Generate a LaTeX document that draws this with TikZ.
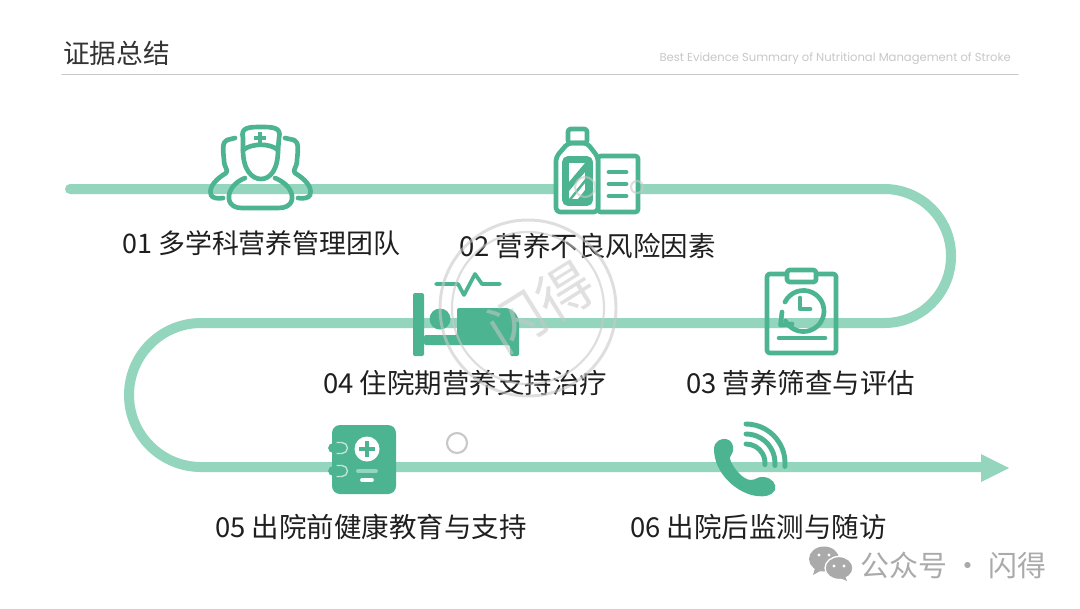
\documentclass[tikz,border=0pt]{standalone}
\usepackage{fontspec}
\setmainfont{Noto Sans CJK SC}
\newfontfamily\latinfont{Poppins}
\newcommand{\px}[1]{\fontsize{#1}{#1}\selectfont}
\begin{document}
\begin{tikzpicture}[x=0.75pt,y=-0.75pt,line join=round,line cap=round]
\definecolor{ligne}{RGB}{148,213,190}
\definecolor{vert}{RGB}{77,180,146}
\definecolor{gris}{RGB}{200,200,200}
\tikzset{
  steplabel/.style={anchor=west,inner sep=0pt,text=black!88,font=\px{20.6}},
  icon/.style={draw=vert,line width=3.5pt},
  thinicon/.style={draw=vert,line width=2.8pt},
  stamp/.style={draw=gris,line width=1.6pt,opacity=0.6}
}
\useasboundingbox (0,0) rectangle (1080,608);
\fill[white] (0,0) rectangle (1080,608);
\node[anchor=west,inner sep=0pt,text=black!80,font=\px{20}] (title) at (63,53) {证据总结};
\node[anchor=east,inner sep=0pt,text=gris,font=\px{8.68}\latinfont\mdseries] (subtitle) at (1011,59) {Best Evidence Summary of Nutritional Management of Stroke};
\draw[gris,line width=0.8pt] (62,74.5) -- (1018,74.5);
\draw[ligne,line width=7.5pt,line cap=round] (70,189) [rounded corners=50pt] -- (951,189) -- (951,323) [rounded corners=54pt] -- (129,323) -- (129,467) [sharp corners] -- (985,467);
\fill[ligne] (981,454) -- (1009,468) -- (981,482) -- cycle;
% nurse
\draw[icon] (243,138) .. controls (240,127) and (250,127) .. (261,127) .. controls (272,127) and (282,127) .. (279,138) -- (278,150) .. controls (278,170) and (270,179) .. (261,179) .. controls (252,179) and (243,170) .. (243,150) -- cycle;
\draw[icon] (243,150) .. controls (252,143) and (270,143) .. (278,150);
\draw[vert,line width=2.8pt,line cap=butt] (260,132) -- (260,144) (254,138) -- (266,138);
\draw[icon] (245,178) .. controls (235,182) and (228,190) .. (229,199) .. controls (230,206) and (236,208) .. (242,208) -- (278,208) .. controls (285,208) and (291,206) .. (292,199) .. controls (293,190) and (285,182) .. (275,178);
\draw[icon] (235,138) -- (227,140) .. controls (222,142) and (223,150) .. (224,160) .. controls (224,168) and (229,170) .. (226,173) .. controls (218,178) and (208,186) .. (211,195) .. controls (212,198) and (218,199) .. (223,198);
\draw[icon] (285,138) -- (294,140) .. controls (299,142) and (298,150) .. (297,160) .. controls (297,168) and (292,170) .. (295,173) .. controls (303,178) and (313,186) .. (310,195) .. controls (309,198) and (303,199) .. (298,198);
% bottle
\draw[icon,fill=white,rounded corners=2pt] (598,156) -- (638,156) -- (638,212) -- (598,212) -- cycle;
\draw[icon,fill=white,rounded corners=3pt] (568,143) -- (556,157) -- (556,212) -- (598,212) -- (598,157) -- (587,143) -- cycle;
\draw[icon,rounded corners=2pt] (568,129) rectangle (587,143);
\draw[thinicon,fill=vert,rounded corners=3pt] (564,158) rectangle (591,204);
\fill[white] (569,163) rectangle (585,199);
\fill[vert] (569,182) -- (585,163) -- (585,172) -- (569,191) -- cycle;
\fill[vert] (569,199) -- (585,179) -- (585,199) -- (578,199) -- (585,190) -- (585,183) -- (572,199) -- cycle;
\foreach \y in {172,184,196} {
  \draw[vert,line width=3.6pt] (609,\y) -- (626,\y);
}
% bed
\fill[vert,rounded corners=1.5pt] (413,293) rectangle (424,356);
\fill[vert] (440,319) circle (10.5);
\fill[vert,rounded corners=1.5pt] (424,335) -- (457,335) -- (457,308) -- (503,308) .. controls (513,308) and (519,316) .. (519,325) -- (519,356) -- (510,356) -- (510,345) -- (424,345) -- cycle;
\draw[thinicon] (436,284) -- (458,284) -- (464,295) -- (475,274) -- (482,284) -- (500,284);
% clipboard
\draw[icon,rounded corners=2pt] (767,274) rectangle (836,353);
\draw[icon,fill=white,rounded corners=2pt] (787,270) rectangle (816,282);
\draw[icon] (785,302) arc[start angle=154,end angle=-151,radius=15.4pt];
\draw[icon] (800,298) -- (800,309) -- (810,309);
\draw[icon] (782,312) -- (780.5,325) -- (792,324);
\draw[icon] (779,338) -- (825,338);
% document
\fill[vert,rounded corners=6pt] (332,425) rectangle (396,494);
\foreach \y in {448,471} {
  \fill[vert,rounded corners=4pt] (328,\y-5) rectangle (346,\y+5);
  \draw[white!65!vert,line width=1pt] (337,\y-5.5) -- (342,\y-5.5) arc[start angle=90,end angle=-90,radius=4.1pt] -- (337,\y+5.5);
}
\fill[white] (367,449) circle (12.5);
\draw[vert,line width=3.2pt,line cap=butt] (367,441) -- (367,457) (359,449) -- (375,449);
\draw[ligne,line width=2.8pt] (358,471) -- (376,471);
\draw[white,line width=2.8pt] (362,480) -- (372,480);
% phone
\fill[vert] (714,449) .. controls (714,441) and (722,438) .. (726,439) .. controls (732,440) and (734,446) .. (733,451) .. controls (732,455) and (729,457) .. (730,459) .. controls (733,468) and (743,480) .. (751,480) .. controls (756,480) and (758,476) .. (764,477) .. controls (772,478) and (777,484) .. (775,490) .. controls (772,496) and (764,497) .. (757,496) .. controls (738,494) and (714,474) .. (714,449) -- cycle;
\foreach \r in {19,29,39} {
  \draw[vert,line width=3.7pt] (746,463-\r) arc[start angle=90,end angle=-5,radius=0.75*\r pt];
}
% labels
\node[steplabel,font=\px{20.2}] (teamlabel) at (122,243) {01 多学科营养管理团队};
\node[steplabel] (risklabel) at (459,246) {02 营养不良风险因素};
\node[steplabel] (screenlabel) at (686,383) {03 营养筛查与评估};
\node[steplabel] (staylabel) at (323,383) {04 住院期营养支持治疗};
\node[steplabel] (educlabel) at (215,527) {05 出院前健康教育与支持};
\node[steplabel] (followlabel) at (630,527) {06 出院后监测与随访};
% stamp
\draw[stamp,line width=2.2pt] (528,308) circle (88);
\draw[stamp] (528,308) circle (76);
\draw[stamp] (585,187) circle (10);
\draw[stamp] (637,187) circle (6);
\draw[gris,line width=1.6pt] (457,443) circle (10);
\node[rotate=32,text=gris,opacity=0.55,inner sep=0pt,font=\px{42}] (stampname) at (541,307) {闪得};
% wechat
\fill[gris!85!black] (824,559) ellipse (15 and 12.5);
\fill[gris!85!black] (815,568) -- (813,575) -- (822,570) -- cycle;
\draw[white,line width=1pt,fill=gris!85!black] (839,568) ellipse (14 and 11.5);
\fill[gris!85!black] (845,576) -- (847,581) -- (840,578) -- cycle;
\foreach \x/\y in {819/555,829/555,834/566,844/566} {
  \fill[white] (\x,\y) circle (1.7);
}
\node[anchor=west,inner sep=0pt,text=gris!85!black,font=\px{21.7}] (wechatname) at (860,565) {公众号 · 闪得};
\end{tikzpicture}
\end{document}
